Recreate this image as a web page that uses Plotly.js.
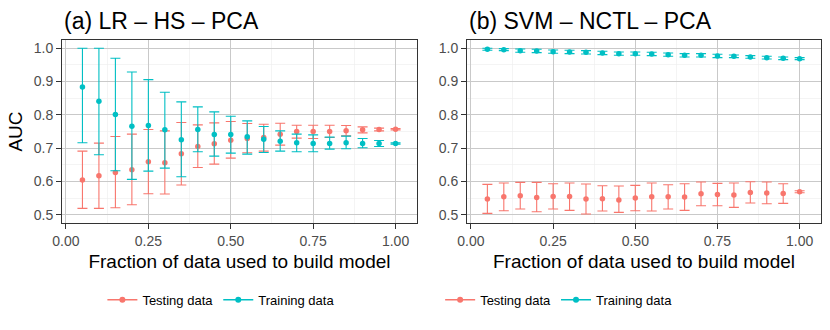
<!DOCTYPE html>
<html>
<head>
<meta charset="utf-8">
<script src="https://cdn.plot.ly/plotly-3.0.1.min.js"></script>
<style>
	body{margin:0; background:#fff;}
	#chart{width:830px; height:330px;}
</style>
</head>
<body>
<div id="chart"></div>
<script>
"use strict";

//DATA
const frac = [0.05, 0.10, 0.15, 0.20, 0.25, 0.30, 0.35, 0.40, 0.45, 0.50,
	0.55, 0.60, 0.65, 0.70, 0.75, 0.80, 0.85, 0.90, 0.95, 1.00];

// (a) LR - HS - PCA
const lrTestMean = [0.604, 0.617, 0.627, 0.635, 0.659, 0.656, 0.683, 0.705, 0.713, 0.724,
	0.729, 0.732, 0.742, 0.750, 0.750, 0.750, 0.752, 0.755, 0.756, 0.757];
const lrTestHi = [0.691, 0.715, 0.735, 0.742, 0.756, 0.752, 0.777, 0.770, 0.776, 0.780,
	0.774, 0.772, 0.775, 0.769, 0.769, 0.769, 0.768, 0.764, 0.760, 0.759];
const lrTestLo = [0.519, 0.519, 0.521, 0.530, 0.563, 0.562, 0.589, 0.642, 0.652, 0.670,
	0.686, 0.691, 0.709, 0.730, 0.729, 0.732, 0.737, 0.746, 0.752, 0.755];
const lrTrainMean = [0.884, 0.841, 0.801, 0.766, 0.768, 0.755, 0.725, 0.756, 0.741, 0.741,
	0.734, 0.727, 0.721, 0.716, 0.714, 0.714, 0.716, 0.714, 0.714, 0.714];
const lrTrainHi = [1.000, 1.000, 0.970, 0.929, 0.906, 0.868, 0.839, 0.824, 0.809, 0.796,
	0.782, 0.765, 0.752, 0.742, 0.740, 0.733, 0.736, 0.729, 0.723, 0.716];
const lrTrainLo = [0.716, 0.680, 0.632, 0.606, 0.631, 0.640, 0.614, 0.689, 0.676, 0.685,
	0.682, 0.687, 0.691, 0.689, 0.689, 0.697, 0.698, 0.701, 0.705, 0.712];

// (b) SVM - NCTL - PCA
const svmTestMean = [0.547, 0.554, 0.557, 0.552, 0.555, 0.555, 0.547, 0.548, 0.544, 0.550,
	0.554, 0.554, 0.553, 0.563, 0.561, 0.559, 0.567, 0.565, 0.564, 0.569];
const svmTestHi = [0.591, 0.595, 0.597, 0.597, 0.593, 0.595, 0.592, 0.587, 0.586, 0.588,
	0.595, 0.590, 0.593, 0.598, 0.594, 0.595, 0.599, 0.598, 0.593, 0.572];
const svmTestLo = [0.504, 0.512, 0.517, 0.509, 0.517, 0.513, 0.502, 0.511, 0.507, 0.512,
	0.511, 0.517, 0.513, 0.527, 0.527, 0.522, 0.535, 0.533, 0.534, 0.566];
const svmTrainMean = [0.997, 0.996, 0.993, 0.992, 0.990, 0.989, 0.988, 0.986, 0.984, 0.984,
	0.983, 0.981, 0.979, 0.979, 0.977, 0.976, 0.974, 0.972, 0.970, 0.969];
const svmTrainHi = [1.000, 0.999, 0.998, 0.997, 0.995, 0.994, 0.993, 0.991, 0.989, 0.989,
	0.988, 0.986, 0.984, 0.984, 0.982, 0.980, 0.978, 0.976, 0.974, 0.972];
const svmTrainLo = [0.994, 0.993, 0.988, 0.987, 0.985, 0.984, 0.983, 0.981, 0.979, 0.979,
	0.978, 0.976, 0.974, 0.974, 0.972, 0.972, 0.970, 0.968, 0.966, 0.966];

const xTicks = [0, 0.25, 0.5, 0.75, 1];
const xTickText = ["0.00", "0.25", "0.50", "0.75", "1.00"];
const seriesNames = ["Testing data", "Training data"];

const RED = "#F8766D", TEAL = "#00BFC4";
const FONT = "Liberation Sans, Arial, Helvetica, sans-serif";

//TRACE FUNCTIONS
function errTrace(mean, hi, lo, color, xa, ya){
	return {
		x: frac, y: mean,
		xaxis: xa, yaxis: ya,
		type: 'scatter', mode: 'markers',
		marker: {color: color, size: 5.5},
		error_y: {
			type: 'data', symmetric: false,
			array: hi.map((v, i) => v - mean[i]),
			arrayminus: lo.map((v, i) => mean[i] - v),
			color: color, thickness: 1.1, width: 5
		},
		showlegend: false, hoverinfo: 'x+y'
	};
}

// legend-only entries, no data
function keyTrace(name, color, leg){
	return {
		x: [null], y: [null],
		type: 'scatter', mode: 'lines+markers',
		name: name, legend: leg,
		line: {color: color, width: 1.5},
		marker: {color: color, size: 6}
	};
}

function xAxis(domain, anchor){
	return {
		domain: domain, anchor: anchor,
		range: [-0.012, 1.065],
		tickvals: xTicks, ticktext: xTickText,
		ticks: 'outside', ticklen: 5, tickcolor: '#333',
		tickfont: {size: 14, color: '#4d4d4d'},
		showgrid: true, gridcolor: '#c9c9c9', gridwidth: 1,
		minor: {tickvals: [0.125, 0.375, 0.625, 0.875], showgrid: true, gridcolor: '#ececec', gridwidth: 0.6},
		showline: true, mirror: true, linecolor: '#333', linewidth: 1,
		zeroline: false,
		title: {text: "Fraction of data used to build model", font: {size: 19, color: '#000'}, standoff: 6}
	};
}

function yAxis(anchor, withTitle){
	return {
		anchor: anchor, domain: [0, 1],
		range: [0.475, 1.025],
		tickvals: [0.5, 0.6, 0.7, 0.8, 0.9, 1.0],
		ticktext: ["0.5", "0.6", "0.7", "0.8", "0.9", "1.0"],
		ticks: 'outside', ticklen: 5, tickcolor: '#333',
		tickfont: {size: 14, color: '#4d4d4d'},
		showgrid: true, gridcolor: '#c9c9c9', gridwidth: 1,
		minor: {tickvals: [0.55, 0.65, 0.75, 0.85, 0.95], showgrid: true, gridcolor: '#ececec', gridwidth: 0.6},
		showline: true, mirror: true, linecolor: '#333', linewidth: 1,
		zeroline: false,
		title: {text: (withTitle? "AUC": ""), font: {size: 19, color: '#000'}, standoff: 6}
	};
}

//MAIN
const traces = [
	errTrace(lrTestMean, lrTestHi, lrTestLo, RED, 'x', 'y'),
	errTrace(lrTrainMean, lrTrainHi, lrTrainLo, TEAL, 'x', 'y'),
	errTrace(svmTestMean, svmTestHi, svmTestLo, RED, 'x2', 'y2'),
	errTrace(svmTrainMean, svmTrainHi, svmTrainLo, TEAL, 'x2', 'y2'),
	keyTrace(seriesNames[0], RED, 'legend'),
	keyTrace(seriesNames[1], TEAL, 'legend'),
	keyTrace(seriesNames[0], RED, 'legend2'),
	keyTrace(seriesNames[1], TEAL, 'legend2')
];

const legendStyle = (cx) => ({
	orientation: 'h', x: cx, xanchor: 'center',
	y: -0.42, yanchor: 'middle',
	font: {size: 13, color: '#000'},
	itemwidth: 30, tracegroupgap: 0,
	bgcolor: 'rgba(0,0,0,0)'
});

const layout = {
	width: 830, height: 330,
	margin: {l: 62, r: 9, t: 40, b: 107},
	paper_bgcolor: '#fff', plot_bgcolor: '#fff',
	font: {family: FONT},
	xaxis: xAxis([0, 0.4677], 'y'),
	yaxis: yAxis('x', true),
	xaxis2: xAxis([0.5336, 1], 'y2'),
	yaxis2: yAxis('x2', false),
	legend: legendStyle(0.21),
	legend2: legendStyle(0.655),
	annotations: [
		{text: "(a) LR \u2013 HS \u2013 PCA", xref: 'paper', yref: 'paper', x: 0, y: 1.105,
			xanchor: 'left', yanchor: 'middle', showarrow: false, font: {size: 23, color: '#000'}},
		{text: "(b) SVM \u2013 NCTL \u2013 PCA", xref: 'paper', yref: 'paper', x: 0.5336, y: 1.105,
			xanchor: 'left', yanchor: 'middle', showarrow: false, font: {size: 23, color: '#000'}}
	]
};

Plotly.newPlot('chart', traces, layout, {displayModeBar: false, staticPlot: true});
</script>
</body>
</html>
